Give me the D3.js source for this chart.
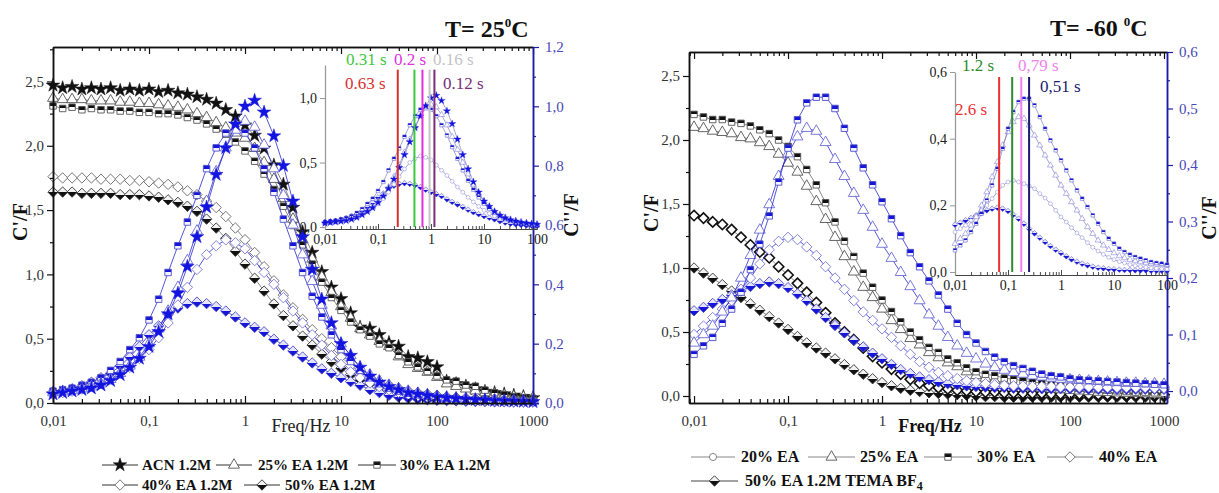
<!DOCTYPE html>
<html>
<head>
<meta charset="utf-8">
<script src="https://cdn.jsdelivr.net/npm/d3@7"></script>
<style>
body { margin: 0; background: #fff; }
svg text { font-family: "Liberation Serif", "Times New Roman", serif; }
</style>
</head>
<body>
<svg width="1219" height="493"></svg>
<script>
// measurement frequencies (Hz), 10 per decade
const freq = [0.01,0.0126,0.0158,0.02,0.0251,0.0316,0.0398,0.0501,0.0631,0.0794,
  0.1,0.126,0.158,0.2,0.251,0.316,0.398,0.501,0.631,0.794,
  1,1.26,1.58,2,2.51,3.16,3.98,5.01,6.31,7.94,
  10,12.6,15.8,20,25.1,31.6,39.8,50.1,63.1,79.4,
  100,126,158,200,251,316,398,501,631,794,1000];

// ---- T = 25 C : C' (F) ----
const acnCp = [2.47,2.45,2.46,2.44,2.45,2.44,2.45,2.43,2.44,2.43,
  2.44,2.42,2.43,2.41,2.40,2.38,2.36,2.33,2.28,2.23,
  2.16,2.08,1.98,1.85,1.70,1.52,1.33,1.17,1.02,0.90,
  0.81,0.70,0.59,0.58,0.53,0.47,0.44,0.36,0.35,0.32,
  0.28,0.17,0.15,0.13,0.11,0.09,0.08,0.07,0.06,0.05,0.04];
const ea25Cp = [2.37,2.36,2.36,2.36,2.35,2.35,2.35,2.34,2.34,2.33,
  2.33,2.32,2.31,2.30,2.28,2.25,2.22,2.18,2.14,2.10,
  2.06,1.98,1.87,1.74,1.59,1.43,1.27,1.12,0.98,0.86,
  0.75,0.66,0.58,0.53,0.48,0.44,0.36,0.30,0.27,0.24,
  0.20,0.15,0.13,0.11,0.095,0.08,0.07,0.06,0.05,0.045,0.04];
const ea30Cp = [2.31,2.29,2.30,2.28,2.29,2.28,2.28,2.27,2.27,2.26,
  2.26,2.25,2.25,2.24,2.22,2.20,2.17,2.13,2.09,2.03,
  1.96,1.88,1.78,1.66,1.53,1.38,1.23,1.08,0.94,0.82,
  0.72,0.63,0.57,0.52,0.46,0.43,0.37,0.32,0.28,0.245,
  0.21,0.18,0.17,0.14,0.13,0.10,0.08,0.065,0.05,0.04,0.035];
const ea40Cp = [1.76,1.75,1.75,1.75,1.75,1.74,1.74,1.74,1.73,1.73,
  1.72,1.71,1.70,1.68,1.65,1.62,1.57,1.52,1.45,1.36,
  1.27,1.17,1.06,0.95,0.84,0.74,0.65,0.57,0.50,0.43,
  0.36,0.29,0.24,0.20,0.165,0.14,0.115,0.095,0.08,0.07,
  0.06,0.05,0.045,0.04,0.035,0.03,0.03,0.025,0.025,0.02,0.02];
const ea50Cp = [1.64,1.64,1.64,1.63,1.63,1.63,1.63,1.62,1.62,1.62,
  1.61,1.60,1.58,1.56,1.53,1.49,1.43,1.36,1.28,1.18,
  1.08,0.97,0.87,0.77,0.68,0.60,0.52,0.45,0.38,0.32,
  0.27,0.22,0.18,0.15,0.12,0.10,0.085,0.07,0.06,0.05,
  0.045,0.04,0.035,0.03,0.03,0.025,0.02,0.02,0.02,0.015,0.015];

// ---- T = 25 C : C'' (F) ----
const acnCpp = [0.03,0.035,0.04,0.045,0.05,0.06,0.075,0.095,0.12,0.15,
  0.19,0.24,0.30,0.37,0.46,0.56,0.66,0.77,0.86,0.94,
  1.00,1.02,0.98,0.90,0.80,0.68,0.56,0.45,0.35,0.27,
  0.20,0.16,0.12,0.09,0.07,0.055,0.045,0.035,0.03,0.025,
  0.02,0.018,0.015,0.013,0.011,0.01,0.008,0.007,0.006,0.005,0.004];
const ea25Cpp = [0.035,0.038,0.042,0.048,0.055,0.065,0.08,0.10,0.125,0.155,
  0.20,0.25,0.31,0.39,0.48,0.58,0.68,0.78,0.86,0.92,
  0.95,0.93,0.87,0.79,0.70,0.60,0.50,0.41,0.33,0.26,
  0.20,0.16,0.12,0.095,0.075,0.06,0.048,0.04,0.033,0.027,
  0.022,0.019,0.016,0.014,0.012,0.01,0.009,0.008,0.007,0.006,0.005];
const ea30Cpp = [0.04,0.045,0.05,0.06,0.07,0.085,0.11,0.14,0.18,0.22,
  0.28,0.35,0.44,0.53,0.61,0.70,0.79,0.86,0.91,0.93,
  0.91,0.86,0.79,0.71,0.62,0.53,0.44,0.36,0.29,0.23,
  0.18,0.14,0.11,0.085,0.065,0.05,0.04,0.033,0.027,0.022,
  0.018,0.016,0.014,0.012,0.01,0.009,0.008,0.007,0.006,0.005,0.004];
const ea40Cpp = [0.03,0.035,0.04,0.047,0.055,0.065,0.08,0.10,0.12,0.15,
  0.18,0.22,0.27,0.33,0.39,0.45,0.50,0.53,0.55,0.54,
  0.52,0.48,0.44,0.40,0.355,0.31,0.27,0.23,0.195,0.16,
  0.13,0.105,0.085,0.068,0.055,0.045,0.036,0.029,0.024,0.02,
  0.016,0.014,0.012,0.01,0.009,0.008,0.007,0.006,0.005,0.004,0.004];
const ea50Cpp = [0.038,0.042,0.048,0.058,0.07,0.085,0.10,0.125,0.155,0.19,
  0.23,0.26,0.30,0.32,0.335,0.34,0.335,0.325,0.31,0.29,
  0.27,0.255,0.24,0.215,0.195,0.175,0.155,0.135,0.115,0.10,
  0.085,0.072,0.06,0.045,0.035,0.026,0.02,0.016,0.013,0.011,
  0.009,0.008,0.007,0.006,0.005,0.005,0.004,0.004,0.003,0.003,0.003];

// ---- T = -60 C : C' (F) ----
const r25Cp = [2.10,2.09,2.07,2.06,2.05,2.02,2.01,1.98,1.95,1.89,
  1.82,1.75,1.64,1.52,1.38,1.24,1.09,0.97,0.85,0.77,
  0.68,0.59,0.52,0.45,0.40,0.34,0.30,0.26,0.23,0.19,
  0.16,0.14,0.12,0.105,0.09,0.08,0.07,0.06,0.055,0.05,
  0.045,0.04,0.035,0.03,0.028,0.025,0.022,0.02,0.018,0.015,0.015];
const r30Cp = [2.20,2.18,2.16,2.16,2.14,2.13,2.11,2.08,2.05,2.00,
  1.95,1.87,1.77,1.65,1.51,1.36,1.21,1.09,0.96,0.85,
  0.75,0.66,0.58,0.50,0.44,0.38,0.34,0.29,0.26,0.22,
  0.19,0.17,0.16,0.14,0.13,0.12,0.11,0.10,0.09,0.08,
  0.07,0.06,0.055,0.05,0.045,0.04,0.035,0.03,0.028,0.025,0.022];
const r40Cp = [1.41,1.39,1.36,1.34,1.30,1.24,1.18,1.125,1.08,1.01,
  0.945,0.88,0.81,0.73,0.65,0.57,0.50,0.44,0.375,0.31,
  0.26,0.21,0.17,0.13,0.10,0.08,0.065,0.055,0.045,0.04,
  0.035,0.03,0.03,0.025,0.025,0.02,0.02,0.02,0.015,0.015,
  0.015,0.015,0.01,0.01,0.01,0.01,0.01,0.01,0.01,0.01,0.01];
const r50Cp = [1.00,0.96,0.92,0.87,0.82,0.77,0.72,0.67,0.62,0.57,
  0.52,0.465,0.415,0.375,0.335,0.29,0.245,0.205,0.17,0.135,
  0.105,0.08,0.06,0.045,0.035,0.025,0.02,0.015,0.01,0.005,
  0.0,-0.005,-0.005,-0.01,-0.01,-0.01,-0.01,-0.01,-0.01,-0.01,
  -0.01,-0.01,-0.01,-0.01,-0.01,-0.01,-0.01,-0.01,-0.01,-0.01,-0.01];

// ---- T = -60 C : C'' (F) ----
const r20Cpp = [0.12,0.13,0.14,0.155,0.17,0.185,0.20,0.22,0.24,0.26,
  0.27,0.275,0.27,0.265,0.258,0.25,0.235,0.222,0.205,0.185,
  0.165,0.15,0.133,0.117,0.103,0.088,0.074,0.063,0.053,0.044,
  0.037,0.031,0.027,0.022,0.019,0.016,0.014,0.012,0.011,0.01,
  0.009,0.009,0.008,0.008,0.008,0.007,0.007,0.007,0.007,0.006,0.006];
const r25Cpp = [0.085,0.10,0.115,0.14,0.165,0.20,0.24,0.285,0.33,0.38,
  0.42,0.45,0.465,0.46,0.44,0.41,0.38,0.35,0.32,0.29,
  0.26,0.235,0.21,0.185,0.16,0.135,0.115,0.095,0.08,0.067,
  0.057,0.048,0.042,0.037,0.033,0.03,0.027,0.025,0.023,0.021,
  0.02,0.019,0.018,0.017,0.016,0.015,0.014,0.014,0.013,0.013,0.012];
const r30Cpp = [0.065,0.08,0.095,0.12,0.145,0.175,0.215,0.26,0.31,0.37,
  0.43,0.48,0.51,0.52,0.52,0.50,0.465,0.43,0.395,0.365,
  0.335,0.305,0.275,0.245,0.22,0.195,0.17,0.145,0.12,0.10,
  0.085,0.07,0.06,0.052,0.045,0.04,0.035,0.03,0.027,0.025,
  0.022,0.02,0.019,0.018,0.017,0.016,0.015,0.014,0.013,0.012,0.011];
const r40Cpp = [0.10,0.115,0.13,0.145,0.16,0.18,0.20,0.225,0.25,0.265,
  0.272,0.268,0.255,0.24,0.22,0.20,0.18,0.16,0.14,0.125,
  0.11,0.095,0.08,0.065,0.052,0.042,0.033,0.027,0.022,0.018,
  0.015,0.013,0.011,0.01,0.009,0.009,0.008,0.008,0.008,0.007,
  0.007,0.007,0.007,0.006,0.006,0.006,0.006,0.006,0.006,0.005,0.005];
const r50Cpp = [0.142,0.148,0.155,0.162,0.17,0.177,0.185,0.19,0.193,0.19,
  0.183,0.172,0.16,0.145,0.13,0.116,0.103,0.09,0.078,0.067,
  0.057,0.047,0.038,0.031,0.025,0.02,0.016,0.013,0.011,0.009,
  0.008,0.007,0.006,0.006,0.005,0.005,0.005,0.004,0.004,0.004,
  0.004,0.004,0.003,0.003,0.003,0.003,0.003,0.003,0.003,0.003,0.003];

// relaxation markers in the insets
const tauLeft = ['0.63 s', '0.31 s', '0.2 s', '0.16 s', '0.12 s'];
const tauLeftFreq = [0.236, 0.487, 0.69, 0.94, 1.16];
const tauRight = ['2.6 s', '1.2 s', '0,79 s', '0,51 s'];
const tauRightFreq = [0.068, 0.12, 0.178, 0.25];

const legendLeft = ['ACN 1.2M', '25% EA 1.2M', '30% EA 1.2M', '40% EA 1.2M', '50% EA 1.2M'];
const legendRight = ['20% EA', '25% EA', '30% EA', '40% EA', '50% EA 1.2M TEMA BF'];

const svg = d3.select('svg');
const defs = svg.append('defs');
// half filled fills (top or bottom half coloured)
[['hk', '#111', '#fff'], ['hkb', '#f2f2f2', '#111'], ['hb', '#1616d8', '#f4f4ff'], ['hbb', '#e4e4fa', '#1616d8']]
  .forEach(([id, top, bot]) => {
    const lg = defs.append('linearGradient').attr('id', id).attr('x1', 0).attr('y1', 0).attr('x2', 0).attr('y2', 1);
    lg.append('stop').attr('offset', 0.5).attr('stop-color', top);
    lg.append('stop').attr('offset', 0.5).attr('stop-color', bot);
  });

// square rotated 45 degrees
const symbolRhomb = {
  draw(ctx, size) {
    const r = Math.sqrt(size / 2);
    ctx.moveTo(0, -r); ctx.lineTo(r, 0); ctx.lineTo(0, r); ctx.lineTo(-r, 0); ctx.closePath();
  }
};

const symType = {star: d3.symbolStar, triangle: d3.symbolTriangle, square: d3.symbolSquare,
                 diamond: symbolRhomb, circle: d3.symbolCircle};
const symSize = {star: 58, triangle: 52, square: 42, diamond: 54, circle: 40};

const st = {
  kStar:  {type: 'star', fill: '#111', stroke: '#111', sw: 0.5},
  kTri:   {type: 'triangle', fill: '#fff', stroke: '#555', sw: 0.9},
  kSq:    {type: 'square', fill: 'url(#hk)', stroke: '#555', sw: 0.9},
  kDia:   {type: 'diamond', fill: '#fff', stroke: '#666', sw: 0.9},
  kDiaB:  {type: 'diamond', fill: '#fff', stroke: '#111', sw: 1.6},
  kHDia:  {type: 'diamond', fill: 'url(#hkb)', stroke: '#333', sw: 0.9},
  kCirc:  {type: 'circle', fill: '#fff', stroke: '#777', sw: 0.9},
  bStar:  {type: 'star', fill: '#1414e0', stroke: '#1414e0', sw: 0.5},
  bTri:   {type: 'triangle', fill: '#fff', stroke: '#6a6ad6', sw: 0.9},
  bSq:    {type: 'square', fill: 'url(#hb)', stroke: '#5050c8', sw: 0.9},
  bDia:   {type: 'diamond', fill: '#fff', stroke: '#7676d6', sw: 0.9},
  bHDia:  {type: 'diamond', fill: 'url(#hbb)', stroke: '#4a4ac8', sw: 0.9},
  bCirc:  {type: 'circle', fill: '#fff', stroke: '#7676d6', sw: 0.8}
};

const fmtDec = d => d3.format('.1f')(d).replace('.', ',');
const fmtLog = d => String(d).replace('.', ',');
const isDecade = d => Math.abs(Math.log10(d) - Math.round(Math.log10(d))) < 1e-6;

function symbolPath(s, scale) {
  return d3.symbol().type(symType[s.type]).size(symSize[s.type] * scale)();
}

function drawSeries(g, x, y, vals, s, scale, lineColor, lineWidth) {
  const [lo, hi] = x.domain();
  const pts = freq.map((f, i) => [f, vals[i]]).filter(d => d[0] >= lo * 0.999 && d[0] <= hi * 1.001);
  g.append('path').datum(pts)
    .attr('fill', 'none').attr('stroke', lineColor).attr('stroke-width', lineWidth)
    .attr('d', d3.line().x(d => x(d[0])).y(d => y(d[1])));
  g.append('g').selectAll('path').data(pts).join('path')
    .attr('transform', d => `translate(${x(d[0])},${y(d[1])})`)
    .attr('d', symbolPath(s, scale))
    .attr('fill', s.fill).attr('stroke', s.stroke).attr('stroke-width', s.sw * Math.sqrt(scale));
}

function styleAxis(a, color, width) {
  a.select('.domain').attr('stroke', color).attr('stroke-width', width);
  a.selectAll('.tick line').attr('stroke', color).attr('stroke-width', width * 0.8);
}

function logAxes(g, x, top, bottom) {
  const all = x.ticks();
  const major = all.filter(isDecade), minor = all.filter(d => !isDecade(d));
  const b = g.append('g').attr('transform', `translate(0,${bottom})`);
  b.append('g').call(d3.axisBottom(x).tickValues(minor).tickSize(-4).tickSizeOuter(0).tickFormat(''))
    .call(a => styleAxis(a, '#111', 1.5));
  b.append('g').call(d3.axisBottom(x).tickValues(major).tickSize(-7).tickSizeOuter(0).tickPadding(12).tickFormat(fmtLog))
    .call(a => styleAxis(a, '#111', 1.5))
    .call(a => a.selectAll('text').attr('font-size', 15).attr('fill', '#333').attr('font-family', '"Liberation Serif", serif'));
  const t = g.append('g').attr('transform', `translate(0,${top})`);
  t.append('g').call(d3.axisTop(x).tickValues(minor).tickSize(-4).tickSizeOuter(0).tickFormat(''))
    .call(a => styleAxis(a, '#111', 1.5));
  t.append('g').call(d3.axisTop(x).tickValues(major).tickSize(-7).tickSizeOuter(0).tickFormat(''))
    .call(a => styleAxis(a, '#111', 1.5));
}

function linAxis(g, scale, pos, side, major, minor, color, labelColor) {
  const mk = side === 'left' ? d3.axisLeft : d3.axisRight;
  const a = g.append('g').attr('transform', `translate(${pos},0)`);
  a.append('g').call(mk(scale).tickValues(minor).tickSize(3).tickSizeOuter(0).tickFormat(''))
    .call(s => styleAxis(s, color, 1.5));
  a.append('g').call(mk(scale).tickValues(major).tickSize(6).tickSizeOuter(0).tickPadding(side === 'left' ? 3 : 6).tickFormat(fmtDec))
    .call(s => styleAxis(s, color, 1.5))
    .call(s => s.selectAll('text').attr('font-size', 15).attr('fill', labelColor).attr('font-family', '"Liberation Serif", serif'));
}

function rotLabel(g, cx, cy, label) {
  g.append('text').attr('transform', `translate(${cx},${cy}) rotate(-90)`)
    .attr('text-anchor', 'middle').attr('dominant-baseline', 'central')
    .attr('font-size', 20).attr('font-weight', 'bold').attr('fill', '#111').text(label);
}

function drawInset(g, cfg) {
  const x = d3.scaleLog().domain([0.01, 100]).range(cfg.xr);
  const y = d3.scaleLinear().domain(cfg.yd).range(cfg.yr);
  const all = x.ticks();
  const major = all.filter(isDecade), minor = all.filter(d => !isDecade(d));
  const sans = '"Liberation Sans", Arial, sans-serif';
  const b = g.append('g').attr('transform', `translate(0,${cfg.yr[0]})`);
  b.append('g').call(d3.axisBottom(x).tickValues(minor).tickSize(-3).tickSizeOuter(0).tickFormat(''))
    .call(a => styleAxis(a, '#444', 1.2));
  b.append('g').call(d3.axisBottom(x).tickValues(major).tickSize(-5).tickSizeOuter(0).tickPadding(5).tickFormat(fmtLog))
    .call(a => styleAxis(a, '#444', 1.2))
    .call(a => a.selectAll('text').attr('font-size', 14).attr('fill', '#222').attr('font-family', sans));
  g.append('g').attr('transform', `translate(${cfg.xr[0]},0)`)
    .call(d3.axisLeft(y).tickValues(cfg.yTicks).tickSize(5).tickSizeOuter(0).tickPadding(3).tickFormat(fmtDec))
    .call(a => styleAxis(a, '#9a9a9a', 1.3))
    .call(a => a.selectAll('text').attr('font-size', 14).attr('fill', '#222').attr('font-family', sans));
  cfg.series.forEach(s => drawSeries(g, x, y, s.vals, s.st, 0.3, '#6a6ab8', 0.6));
  cfg.lines.forEach((f, i) => {
    g.append('line').attr('x1', x(f)).attr('x2', x(f)).attr('y1', y(cfg.lineTop)).attr('y2', y(0))
      .attr('stroke', cfg.colors[i]).attr('stroke-width', 2);
  });
  cfg.labels.forEach((l, i) => {
    g.append('text').attr('x', l[0]).attr('y', l[1]).text(cfg.texts[i])
      .attr('font-family', sans).attr('font-size', 17).attr('fill', cfg.colors[i]);
  });
}

function drawLegend(g, items, fontSize) {
  items.forEach(it => {
    g.append('line').attr('x1', it.x1).attr('x2', it.x2).attr('y1', it.y).attr('y2', it.y)
      .attr('stroke', it.line).attr('stroke-width', 1);
    g.append('path').attr('transform', `translate(${(it.x1 + it.x2) / 2},${it.y})`)
      .attr('d', symbolPath(it.st, 1)).attr('fill', it.st.fill).attr('stroke', it.st.stroke).attr('stroke-width', it.st.sw);
    const t = g.append('text').attr('x', it.tx).attr('y', it.y + 5).attr('font-size', fontSize)
      .attr('font-weight', 'bold').attr('fill', '#111').text(it.text);
    if (it.sub) t.append('tspan').attr('dy', 4).attr('font-size', fontSize * 0.75).text(it.sub);
  });
}

// ================= LEFT PANEL (T = 25 C) =================
{
  const g = svg.append('g');
  const x = d3.scaleLog().domain([0.01, 1000]).range([53, 533]);
  const yL = d3.scaleLinear().domain([0, 2.768]).range([403, 47]);
  const yR = d3.scaleLinear().domain([0, 1.2]).range([403, 47]);

  const cp = [[acnCp, st.kStar], [ea25Cp, st.kTri], [ea30Cp, st.kSq], [ea40Cp, st.kDia], [ea50Cp, st.kHDia]];
  const cpp = [[ea50Cpp, st.bHDia], [ea40Cpp, st.bDia], [ea30Cpp, st.bSq], [ea25Cpp, st.bTri], [acnCpp, st.bStar]];
  cp.forEach(([v, s]) => drawSeries(g, x, yL, v, s, 1, '#555', 0.7));
  cpp.forEach(([v, s]) => drawSeries(g, x, yR, v, s, 1, '#2a2ad0', 0.8));

  logAxes(g, x, 47, 403);
  linAxis(g, yL, 53, 'left', [0, 0.5, 1, 1.5, 2, 2.5], [0.25, 0.75, 1.25, 1.75, 2.25, 2.75], '#111', '#333');
  linAxis(g, yR, 533, 'right', [0, 0.2, 0.4, 0.6, 0.8, 1.0, 1.2], [0.1, 0.3, 0.5, 0.7, 0.9, 1.1], '#1c1ca8', '#4848b8');

  rotLabel(g, 20, 222, "C'/F");
  rotLabel(g, 571, 215, "C''/F");
  g.append('text').attr('x', 301).attr('y', 432).attr('text-anchor', 'middle')
    .attr('font-size', 18).attr('fill', '#222').text('Freq/Hz');

  const title = g.append('text').attr('x', 445).attr('y', 37)
    .attr('font-family', '"Liberation Sans", Arial, sans-serif').attr('font-weight', 'bold').attr('font-size', 24).attr('fill', '#111');
  title.append('tspan').text('T= 25');
  title.append('tspan').attr('dy', -10).attr('font-size', 13).text('0');
  title.append('tspan').attr('dy', 10).text('C');

  drawInset(g.append('g'), {
    xr: [325, 537], yd: [-0.015, 1.256], yr: [229, 65], yTicks: [0, 0.5, 1.0],
    series: [
      {vals: ea50Cpp, st: st.bHDia}, {vals: ea40Cpp, st: st.bCirc}, {vals: ea25Cpp, st: st.bTri},
      {vals: ea30Cpp, st: st.bSq}, {vals: acnCpp, st: st.bStar}
    ],
    lines: tauLeftFreq, lineTop: 1.22,
    colors: ['#d83030', '#3cc83c', '#e030e0', '#c4c4c4', '#7a2d78'],
    texts: tauLeft,
    labels: [[345, 89], [346, 65], [394, 65], [433, 65], [443, 89]]
  });

  drawLegend(g, [
    {x1: 102, x2: 138, y: 465, tx: 142, text: legendLeft[0], st: st.kStar, line: '#333'},
    {x1: 216, x2: 252, y: 465, tx: 258, text: legendLeft[1], st: st.kTri, line: '#333'},
    {x1: 358, x2: 396, y: 465, tx: 400, text: legendLeft[2], st: st.kSq, line: '#333'},
    {x1: 102, x2: 138, y: 485, tx: 142, text: legendLeft[3], st: st.kDia, line: '#333'},
    {x1: 244, x2: 280, y: 485, tx: 285, text: legendLeft[4], st: st.kHDia, line: '#333'}
  ], 15);
}

// ================= RIGHT PANEL (T = -60 C) =================
{
  const g = svg.append('g');
  const x = d3.scaleLog().domain([0.00884, 1076]).range([689, 1167]);
  const yL = d3.scaleLinear().domain([-0.0547, 2.6875]).range([403, 52]);
  const yR = d3.scaleLinear().domain([-0.0212, 0.6]).range([403, 52]);

  const cp = [[r50Cp, st.kHDia], [r40Cp, st.kDiaB], [r25Cp, st.kTri], [r30Cp, st.kSq]];
  const cpp = [[r50Cpp, st.bHDia], [r40Cpp, st.bDia], [r25Cpp, st.bTri], [r30Cpp, st.bSq]];
  cp.forEach(([v, s]) => drawSeries(g, x, yL, v, s, 1, '#555', 0.7));
  cpp.forEach(([v, s]) => drawSeries(g, x, yR, v, s, 1, '#2a2ad0', 0.8));

  logAxes(g, x, 52, 403);
  linAxis(g, yL, 689, 'left', [0, 0.5, 1, 1.5, 2, 2.5], [0.25, 0.75, 1.25, 1.75, 2.25], '#111', '#333');
  linAxis(g, yR, 1167, 'right', [0, 0.1, 0.2, 0.3, 0.4, 0.5, 0.6], [0.05, 0.15, 0.25, 0.35, 0.45, 0.55], '#1c1ca8', '#4848b8');

  rotLabel(g, 651, 213, "C'/F");
  rotLabel(g, 1209, 218, "C''/F");
  g.append('text').attr('x', 930).attr('y', 432).attr('text-anchor', 'middle')
    .attr('font-size', 18).attr('font-weight', 'bold').attr('fill', '#111').text('Freq/Hz');

  const title = g.append('text').attr('x', 1050).attr('y', 36)
    .attr('font-family', '"Liberation Sans", Arial, sans-serif').attr('font-weight', 'bold').attr('font-size', 24).attr('fill', '#111');
  title.append('tspan').text('T= -60 ');
  title.append('tspan').attr('dy', -10).attr('font-size', 13).text('0');
  title.append('tspan').attr('dy', 10).text('C');

  drawInset(g.append('g'), {
    xr: [955, 1167], yd: [-0.009, 0.6], yr: [275, 72], yTicks: [0, 0.2, 0.4, 0.6],
    series: [
      {vals: r50Cpp, st: st.bHDia}, {vals: r20Cpp, st: st.bCirc},
      {vals: r25Cpp, st: st.bTri}, {vals: r30Cpp, st: st.bSq}
    ],
    lines: tauRightFreq, lineTop: 0.585,
    colors: ['#ee3030', '#2e8b2e', '#ee82ee', '#1a1a70'],
    texts: tauRight,
    labels: [[955, 115], [962, 71], [1018, 71], [1040, 92]]
  });

  drawLegend(g, [
    {x1: 691, x2: 735, y: 457, tx: 741, text: legendRight[0], st: st.kCirc, line: '#888'},
    {x1: 808, x2: 855, y: 457, tx: 860, text: legendRight[1], st: st.kTri, line: '#888'},
    {x1: 924, x2: 972, y: 457, tx: 977, text: legendRight[2], st: st.kSq, line: '#888'},
    {x1: 1047, x2: 1093, y: 457, tx: 1099, text: legendRight[3], st: st.kDia, line: '#888'},
    {x1: 691, x2: 738, y: 481, tx: 745, text: legendRight[4], sub: '4', st: st.kHDia, line: '#444'}
  ], 16);
}
</script>
</body>
</html>
